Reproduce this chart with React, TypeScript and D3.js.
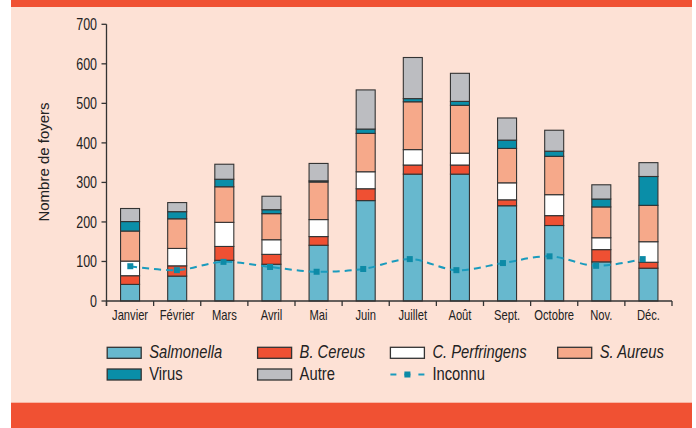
import React from "react";
import * as d3 from "d3";

const months = ["Janvier", "Février", "Mars", "Avril", "Mai", "Juin", "Juillet", "Août", "Sept.", "Octobre", "Nov.", "Déc."];
const salmonella = [42, 63, 103, 93, 141, 254, 321, 321, 241, 191, 99, 83];
const bCereus = [22, 26, 35, 25, 22, 30, 23, 23, 15, 25, 31, 15];
const cPerfringens = [37, 44, 61, 37, 43, 43, 39, 30, 43, 53, 30, 52];
const sAureus = [76, 75, 90, 66, 95, 97, 121, 121, 87, 97, 78, 92];
const virus = [24, 18, 19, 10, 3, 11, 8, 10, 21, 13, 20, 73];
const autre = [33, 23, 38, 34, 44, 99, 104, 71, 56, 53, 36, 35];
const inconnu = [88, 78, 99, 86, 74, 81, 106, 78, 96, 113, 89, 106];
const yTicks = [0, 100, 200, 300, 400, 500, 600, 700];

const seriesNames = ["Salmonella", "B. Cereus", "C. Perfringens", "S. Aureus", "Virus", "Autre"];
const seriesData = [salmonella, bCereus, cPerfringens, sAureus, virus, autre];
const seriesColors = ["#67b8ce", "#ef5033", "#ffffff", "#f6a98a", "#0a8ea8", "#bcbdc1"];
const italicSeries = [true, true, true, true, false, false];

const W = 696;
const H = 428;
const BG = "#fde1d5";
const ORANGE = "#f05133";
const AX = "#333333";
const FONT = "'Liberation Sans', Arial, sans-serif";

function NText(props: {
  x: number;
  y: number;
  size: number;
  sx?: number;
  anchor?: string;
  italic?: boolean;
  children: React.ReactNode;
}) {
  const { x, y, size, sx = 0.82, anchor = "start", italic = false, children } = props;
  return (
    <g transform={`translate(${x},${y}) scale(${sx},1)`}>
      <text
        x={0}
        y={0}
        textAnchor={anchor}
        fontFamily={FONT}
        fontSize={size}
        fontStyle={italic ? "italic" : "normal"}
        fill="#222"
      >
        {children}
      </text>
    </g>
  );
}

export default function App() {
  const x0 = 106.5;
  const x1 = 672;
  const x = d3.scaleBand<string>().domain(months).range([x0, x1]).paddingInner(0).paddingOuter(0);
  const bw = 19;
  const y = d3.scaleLinear().domain([0, 700]).range([301, 24.3]);
  const xp = d3.scalePoint<string>().domain(months).range([130.3, 642.7]);

  const rows = months.map((m, i) => {
    const r: any = { month: m };
    seriesNames.forEach((s, k) => (r[s] = seriesData[k][i]));
    return r;
  });
  const stacked = d3.stack().keys(seriesNames)(rows);

  const line = d3
    .line<number>()
    .x((_, i) => xp(months[i]) as number)
    .y((d) => y(d))
    .curve(d3.curveCatmullRom.alpha(0.5));

  const boundaries = d3.range(months.length + 1).map((i) => x0 + i * x.bandwidth());

  const legendCols = [107.2, 257.6, 390.4, 557.7];
  const legendRows = [347.3, 369];
  const legendItems = [
    { name: "Salmonella", k: 0, col: 0, row: 0 },
    { name: "B. Cereus", k: 1, col: 1, row: 0 },
    { name: "C. Perfringens", k: 2, col: 2, row: 0 },
    { name: "S. Aureus", k: 3, col: 3, row: 0 },
    { name: "Virus", k: 4, col: 0, row: 1 },
    { name: "Autre", k: 5, col: 1, row: 1 },
  ];

  return (
    <svg width={W} height={H} style={{ position: "absolute", left: 0, top: 0, background: "#fff" }}>
      <rect x={11} y={0} width={681} height={H} fill={BG} />
      <rect x={11} y={0} width={681} height={7} fill={ORANGE} />
      <rect x={11} y={402.7} width={681} height={H - 402.7} fill={ORANGE} />

      {/* bars */}
      {stacked.map((layer, k) => (
        <g key={k}>
          {layer.map((d, i) => (
            <rect
              key={i}
              x={(x(months[i]) as number) + (x.bandwidth() - bw) / 2}
              y={y(d[1])}
              width={bw}
              height={Math.max(0, y(d[0]) - y(d[1]))}
              fill={seriesColors[k]}
              stroke={AX}
              strokeWidth={1.1}
            />
          ))}
        </g>
      ))}

      {/* y axis */}
      <line x1={x0} x2={x0} y1={y(700)} y2={306} stroke={AX} strokeWidth={1.3} />
      {yTicks.map((t) => (
        <g key={t}>
          <line x1={x0 - 5} x2={x0} y1={y(t)} y2={y(t)} stroke={AX} strokeWidth={1.3} />
          <NText x={97} y={y(t) + 6} size={16} sx={0.78} anchor="end">
            {t}
          </NText>
        </g>
      ))}
      <text
        transform={`translate(43,162) rotate(-90)`}
        textAnchor="middle"
        dominantBaseline="central"
        fontFamily={FONT}
        fontSize={15}
        fill="#222"
      >
        Nombre de foyers
      </text>

      {/* x axis */}
      <line x1={x0} x2={x1} y1={y(0)} y2={y(0)} stroke={AX} strokeWidth={1.3} />
      {boundaries.map((b, i) => (
        <line key={i} x1={b} x2={b} y1={y(0)} y2={y(0) + 5} stroke={AX} strokeWidth={1.3} />
      ))}
      {months.map((m) => (
        <NText key={m} x={(x(m) as number) + x.bandwidth() / 2} y={320} size={14} sx={0.8} anchor="middle">
          {m}
        </NText>
      ))}

      {/* inconnu line */}
      <path d={line(inconnu) || ""} fill="none" stroke="#1a9bbd" strokeWidth={2} strokeDasharray="7,5" />
      {inconnu.map((v, i) => (
        <rect key={i} x={(xp(months[i]) as number) - 3} y={y(v) - 3} width={6} height={6} fill="#0d8aa6" />
      ))}

      {/* legend */}
      {legendItems.map((it) => {
        const lx = legendCols[it.col];
        const ly = legendRows[it.row];
        return (
          <g key={it.name}>
            <rect x={lx} y={ly} width={34} height={11} fill={seriesColors[it.k]} stroke={AX} strokeWidth={1.3} />
            <NText x={lx + 42} y={ly + 11} size={18} italic={italicSeries[it.k]}>
              {it.name}
            </NText>
          </g>
        );
      })}
      <g>
        <line
          x1={legendCols[2]}
          x2={legendCols[2] + 34}
          y1={legendRows[1] + 5.5}
          y2={legendRows[1] + 5.5}
          stroke="#1a9bbd"
          strokeWidth={2}
          strokeDasharray="6,8"
        />
        <rect x={legendCols[2] + 14} y={legendRows[1] + 2.5} width={6} height={6} fill="#0d8aa6" />
        <NText x={legendCols[2] + 42} y={legendRows[1] + 11} size={18}>
          Inconnu
        </NText>
      </g>
    </svg>
  );
}
